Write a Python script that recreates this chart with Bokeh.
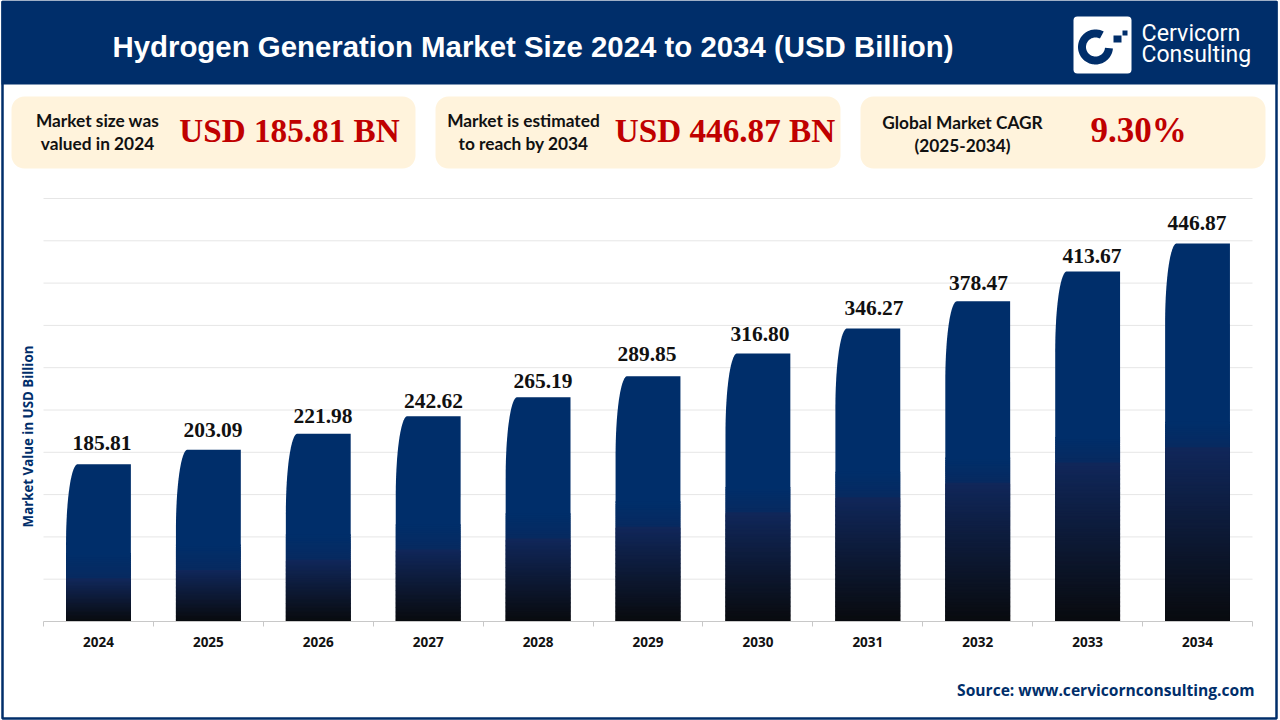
import math
import numpy as np
from bokeh.embed import file_html
from bokeh.resources import INLINE
from bokeh.plotting import figure
from bokeh.models import (BoxAnnotation, ColumnDataSource, FixedTicker, Label, LabelSet, LinearAxis,
                          PolyAnnotation, Range1d)

# ---- data ----
years = [2024, 2025, 2026, 2027, 2028, 2029, 2030, 2031, 2032, 2033, 2034]
values = [185.81, 203.09, 221.98, 242.62, 265.19, 289.85, 316.80, 346.27, 378.47, 413.67, 446.87]
value_labels = ["185.81", "203.09", "221.98", "242.62", "265.19", "289.85",
                "316.80", "346.27", "378.47", "413.67", "446.87"]
shade_tops = [51, 61, 73, 85, 98, 112, 129, 147, 164, 188, 206]
y_ticks = [50, 100, 150, 200, 250, 300, 350, 400, 450, 500]
title_text = "Hydrogen Generation Market Size 2024 to 2034 (USD Billion)"
y_title = "Market Value in USD Billion"
source_text = "Source: www.cervicornconsulting.com"
cards = [("Market size was", "valued in 2024", "USD 185.81 BN"),
         ("Market is estimated", "to reach by 2034", "USD 446.87 BN"),
         ("Global Market CAGR", "(2025-2034)", "9.30%")]

# ---- style ----
NAVY = "#002e6a"
CARD = "#fff3dc"
RED = "#c00000"
W, H = 1280, 720
PLOT_L, PLOT_R, PLOT_T, PLOT_B = 43, 1252, 198, 621
# the reference's hand-placed value labels, pixels from the bar's top centre
label_dx = [3.5, 4.6, 4.7, 5.3, 4.9, -1, 2.1, 6.2, 0.8, 4.4, -0.5]
label_dy = [14, 13, 11, 8, 9, 15, 12, 14, 11, 9, 13]

# The frame fills the canvas so that the header and the cards can be drawn; the ranges put the
# chart's 2023.5-2034.5 / 0-500 window at the plot rectangle above.
x_per_px = (years[-1] - years[0] + 1) / (PLOT_R - PLOT_L)
y_per_px = y_ticks[-1] / (PLOT_B - PLOT_T)
X0, X1 = years[0] - 0.5, years[-1] + 0.5
p = figure(width=W, height=H, output_backend="svg", toolbar_location=None,
           x_range=Range1d(X0 - PLOT_L * x_per_px, X0 + (W - PLOT_L) * x_per_px),
           y_range=Range1d(-(H - PLOT_B) * y_per_px, PLOT_B * y_per_px),
           x_axis_type=None, y_axis_type=None, min_border=0)
p.outline_line_color = None
p.background_fill_color = "white"
p.border_fill_color = "white"
p.grid.visible = False

xa = LinearAxis(fixed_location=0, bounds=(X0, X1))
xa.ticker = FixedTicker(ticks=years, minor_ticks=[y - 0.5 for y in years] + [years[-1] + 0.5])
xa.major_label_overrides = {y: str(y) for y in years}
xa.major_tick_line_color = None
xa.minor_tick_line_color = "#c8c8c8"
xa.minor_tick_in = 0
xa.minor_tick_out = 5
xa.axis_line_color = "#c8c8c8"
xa.major_label_text_font = "Open Sans"
xa.major_label_text_font_style = "bold"
xa.major_label_text_font_size = "13.5px"
xa.major_label_text_color = "#111111"
xa.major_label_standoff = 9
p.add_layout(xa, "below")

p.segment(x0=[X0] * len(y_ticks), x1=[X1] * len(y_ticks), y0=y_ticks, y1=y_ticks,
          line_color="#e6e6e6", line_width=1)

# ---- bars: rounded top-left corner, shaded base ----
BAR = 0.59
CORNER_X, CORNER_Y = 0.105, 80 * y_per_px
xs, ys = [], []
sx, sy, sc = [], [], []


def mix(a, b, t):
    ca = [int(a[i:i + 2], 16) for i in (1, 3, 5)]
    cb = [int(b[i:i + 2], 16) for i in (1, 3, 5)]
    return "#%02x%02x%02x" % tuple(round(u + (v - u) * t) for u, v in zip(ca, cb))


def slice_up(l, r, edges, c0, c1):
    n = len(edges) - 1
    for i in range(n):
        hi, lo = edges[i], max(edges[i + 1] - 2.5, 0)
        sx.append([l, l, r, r]); sy.append([lo, hi, hi, lo]); sc.append(mix(c0, c1, i / max(n - 1, 1)))


for yr, v, top in zip(years, values, shade_tops):
    l, r = yr - BAR / 2, yr + BAR / 2
    ang = np.linspace(0, math.pi / 2, 40)
    cx = l + CORNER_X * (1 - np.cos(ang))
    cy = v - CORNER_Y * (1 - np.sin(ang))
    base = top + 28
    xs.append([l] + list(cx) + [r, r])
    ys.append([base] + list(cy) + [v, base])
    slice_up(l, r, list(np.linspace(top + 30, top, 13)), NAVY, "#072a60")
    slice_up(l, r, list(np.linspace(top, 0, max(int(top / 1.5), 2))), "#10275a", "#090b0f")

p.patches(xs, ys, fill_color=NAVY, line_color=None)
p.patches(sx, sy, fill_color=sc, line_color=None)

labels = ColumnDataSource(dict(x=years, y=values, t=value_labels, dx=label_dx, dy=label_dy))
p.add_layout(LabelSet(x="x", y="y", text="t", source=labels, x_offset="dx", y_offset="dy", text_align="center",
                      text_baseline="alphabetic", text_font="Liberation Serif", text_font_style="bold",
                      text_font_size="21.5px", text_color="#111111"))


# ---- page furniture in canvas pixels ----
def box(l, r, t, b, fill=None, line=None, lw=0, radius=0):
    p.add_layout(BoxAnnotation(left=l, right=r, top=t, bottom=b, left_units="canvas", right_units="canvas",
                               top_units="canvas", bottom_units="canvas", fill_color=fill, fill_alpha=1,
                               line_color=line, line_width=lw, line_alpha=1, border_radius=radius,
                               level="annotation"))


def text(x, y, s, font, size, color, style="normal", align="center", base="middle", angle=0):
    p.add_layout(Label(x=x, y=y, x_units="canvas", y_units="canvas", text=s, text_font=font,
                       text_font_size=size, text_color=color, text_font_style=style,
                       text_align=align, text_baseline=base, angle=angle, level="overlay"))


box(1, 1277, 1, 84, fill=NAVY)
box(2, 1276, 1, 718, line=NAVY, lw=2.5)
text(532.5, 46, title_text, "Liberation Sans", "29.4px", "white", "bold")

for (a, b, big), (l, r), (tx, vx), (y1, y2), size in zip(
        cards,
        [(11, 415), (435, 840), (860, 1265)],
        [(97, 289), (523, 724.5), (962, 1138)],
        [(120, 143), (120, 143), (122, 145)],
        ["33.2px", "33.2px", "35px"]):
    box(l, r, 96, 168, fill=CARD, radius=13)
    text(tx, y1, a, "Lato", "17.3px", "#111111", "bold")
    text(tx, y2, b, "Lato", "17.3px", "#111111", "bold")
    text(vx, 130, big, "Liberation Serif", size, RED, "bold")

text(1254, 689, source_text, "Open Sans", "15.6px", NAVY, "bold", align="right")
text(27, 436, y_title, "Open Sans", "13.3px", NAVY, "bold", angle=math.pi / 2)

# logo
box(1073, 1131, 16, 73, fill="white", radius=4)
a = np.radians(np.linspace(62, 360 - 5, 90))
rx = 1095 + 17.5 * np.cos(a)
ry = 46.5 - 17.5 * np.sin(a)
ix = 1095 + 9.5 * np.cos(a[::-1])
iy = 46.5 - 9.5 * np.sin(a[::-1])
p.add_layout(PolyAnnotation(xs=list(rx) + list(ix), ys=list(ry) + list(iy), xs_units="canvas", ys_units="canvas",
                            fill_color=NAVY, fill_alpha=1, line_color=None, level="annotation"))
box(1113, 1121, 35, 42, fill=NAVY)
box(1122, 1127, 30, 35, fill=NAVY)
text(1141, 32, "Cervicorn", "Roboto", "23.3px", "white", align="left")
text(1141, 54, "Consulting", "Roboto", "23px", "white", align="left")

html = file_html(p, INLINE)
html = html.replace("<body>", '<body style="margin:0;overflow:hidden">', 1)
open("out.html", "w").write(html)
